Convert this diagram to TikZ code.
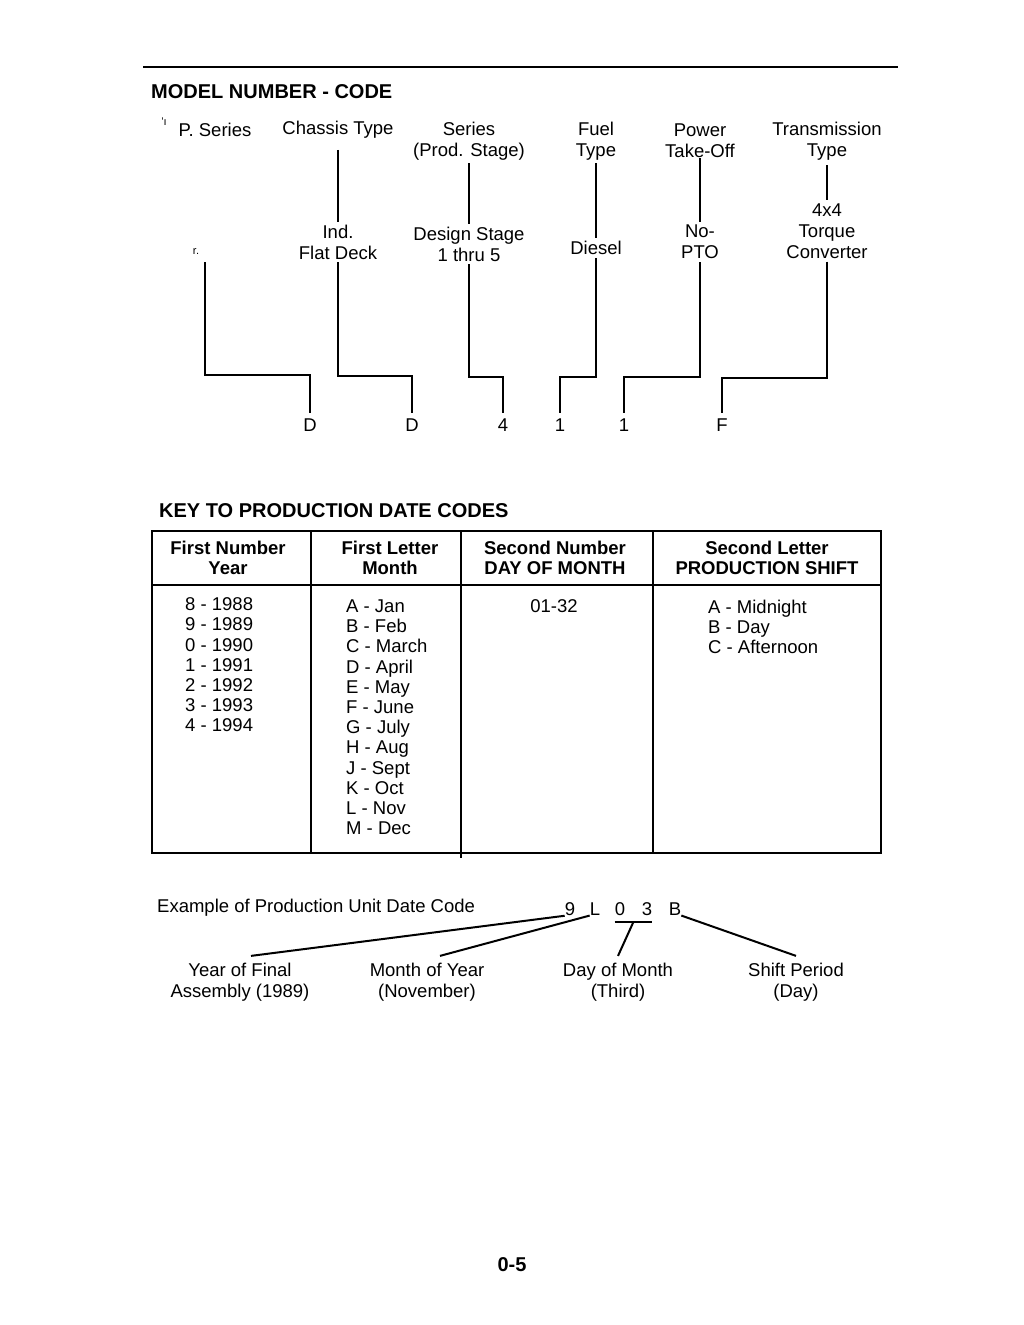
\documentclass[tikz,border=0pt]{standalone}
\usepackage{fontspec}
\setmainfont{Liberation Sans}
\usetikzlibrary{calc}

\tikzset{
  lbl/.style={font=\fontsize{18.5}{21}\selectfont, align=center, inner sep=3pt},
  hdr/.style={font=\bfseries\fontsize{18.5}{20}\selectfont, align=center, inner sep=0pt},
  ttl/.style={font=\bfseries\fontsize{20}{24}\selectfont, anchor=west, inner sep=0pt},
  cell/.style={font=\fontsize{18.5}{20.2}\selectfont, align=left, anchor=north west, inner sep=0pt},
  codeltr/.style={font=\fontsize{18.5}{21}\selectfont, inner sep=0pt, outer sep=6pt},
  datechr/.style={font=\fontsize{18.5}{21}\selectfont, inner sep=0pt},
  lead/.style={line width=2.3pt},
  tabline/.style={line width=2pt},
}

\begin{document}
\begin{tikzpicture}[x=1pt, y=-1pt]
  \useasboundingbox (0,0) rectangle (1024,1325);

  % Model number code
  \draw[tabline] (143,67) -- (898,67);
  \node[ttl] (mtitle) at (151,92) {MODEL NUMBER - CODE};

  \node[lbl, font=\fontsize{11}{11}\selectfont, inner sep=0pt] (hpmark) at (164,122) {'ı};
  \node[lbl] (hp) at (215,130) {P. Series};
  \node[lbl] (chassis) at (338,130) {Chassis Type};
  \node[lbl] (series) at (469,141) {Series\\(Prod. Stage)};
  \node[lbl] (fuel) at (596,141) {Fuel\\Type};
  \node[lbl] (pto) at (700,141) {Power\\Take-Off};
  \node[lbl] (trans) at (827,141) {Transmission\\Type};

  \node[lbl, font=\fontsize{11}{11}\selectfont, inner sep=0pt] (hpr) at (196,252) {r.};
  \node[lbl] (flat) at (338,242) {Ind.\\Flat Deck};
  \node[lbl] (design) at (469,244) {Design Stage\\1 thru 5};
  \node[lbl] (diesel) at (596,248) {Diesel};
  \node[lbl] (nopto) at (700,242) {No-\\PTO};
  \node[lbl] (torque) at (827,231) {4x4\\Torque\\Converter};

  \node[codeltr] (d1) at (310,425) {D};
  \node[codeltr] (d2) at (412,425) {D};
  \node[codeltr] (s4) at (503,425) {4};
  \node[codeltr] (f1) at (560,425) {1};
  \node[codeltr] (p1) at (624,425) {1};
  \node[codeltr] (tf) at (722,425) {F};

  % Leaders
  \coordinate (hpfoot) at (205,262);
  \draw[lead] (hpfoot) -- (hpfoot |- 0,375) -| (d1.north);
  \draw[lead, shorten <=8pt] (chassis.south) -- (flat.north);
  \draw[lead] (flat.south) -- (flat.south |- 0,376) -| (d2.north);
  \draw[lead] (series.south) -- (design.north);
  \draw[lead] (design.south) -- (design.south |- 0,377) -| (s4.north);
  \draw[lead] (fuel.south) -- (diesel.north);
  \draw[lead] (diesel.south) -- (diesel.south |- 0,377) -| (f1.north);
  \draw[lead, shorten <=-3pt] (pto.south) -- (nopto.north);
  \draw[lead] (nopto.south) -- (nopto.south |- 0,377) -| (p1.north);
  \draw[lead, shorten <=2pt] (trans.south) -- (torque.north);
  \draw[lead] (torque.south) -- (torque.south |- 0,378) -| (tf.north);

  % Key to production date codes
  \node[ttl] (ktitle) at (159,511) {KEY TO PRODUCTION DATE CODES};
  \draw[tabline] (152,531) rectangle (881,853);
  \draw[tabline] (152,585) -- (881,585);
  \draw[tabline] (311,531) -- (311,853);
  \draw[tabline] (461,531) -- (461,858);
  \draw[tabline] (653,531) -- (653,853);

  \node[hdr] (h1) at (228,558) {First Number\\Year};
  \node[hdr] (h2) at (390,558) {First Letter\\Month};
  \node[hdr] (h3) at (555,558) {Second Number\\DAY OF MONTH};
  \node[hdr] (h4) at (767,558) {Second Letter\\PRODUCTION SHIFT};

  \node[cell] (years) at (185,597.5)
    {8 - 1988\\9 - 1989\\0 - 1990\\1 - 1991\\2 - 1992\\3 - 1993\\4 - 1994};
  \node[cell] (months) at (346,599.5)
    {A - Jan\\B - Feb\\C - March\\D - April\\E - May\\F - June\\G - July\\H - Aug\\J - Sept\\K - Oct\\L - Nov\\M - Dec};
  \node[cell, anchor=north] (days) at (554,599.5) {01-32};
  \node[cell] (shifts) at (708,599.5) {A - Midnight\\B - Day\\C - Afternoon};

  % Example
  \node[lbl, anchor=west, inner sep=0pt] (extext) at (157,908) {Example of Production Unit Date Code};
  \node[datechr] (c9) at (570,909) {9};
  \node[datechr] (cL) at (595,909) {L};
  \node[datechr] (c0) at (620,909) {0};
  \node[datechr] (c3) at (647,909) {3};
  \node[datechr] (cB) at (675,909) {B};

  \node[lbl, outer sep=4pt] (yr) at (240,982) {Year of Final\\Assembly (1989)};
  \node[lbl, outer sep=4pt] (mo) at (427,982) {Month of Year\\(November)};
  \node[lbl, outer sep=4pt] (dy) at (618,982) {Day of Month\\(Third)};
  \node[lbl, outer sep=4pt] (sh) at (796,982) {Shift Period\\(Day)};

  \coordinate (dm) at ($(c0.south west)!.5!(c3.south east)+(0,6)$);
  \draw[tabline] (c9.south west) -- ([xshift=11pt]yr.north);
  \draw[tabline] (cL.south west) -- ([xshift=13pt]mo.north);
  \draw[tabline] ([yshift=-6pt]c0.south west) -- ([yshift=-6pt]c3.south east);
  \draw[tabline] (dm) -- (dy.north);
  \draw[tabline] (cB.south east) -- (sh.north);

  \node[ttl, anchor=center] (pgno) at (512,1265) {0-5};
\end{tikzpicture}
\end{document}
